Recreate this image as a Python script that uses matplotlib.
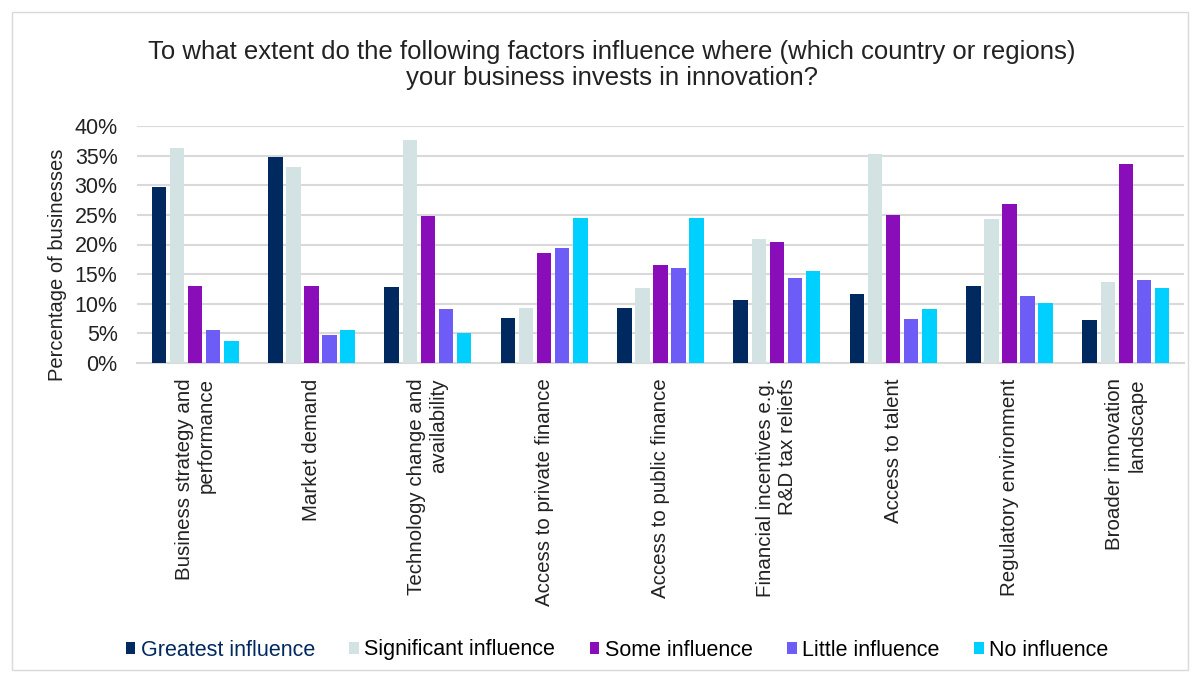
import matplotlib.pyplot as plt
import numpy as np
from matplotlib.patches import Rectangle
from matplotlib.ticker import PercentFormatter

plt.rcParams['font.family'] = ['Liberation Sans', 'DejaVu Sans']

factors = ['Business strategy and\nperformance', 'Market demand',
           'Technology change and\navailability', 'Access to private finance',
           'Access to public finance', 'Financial incentives e.g.\nR&D tax reliefs',
           'Access to talent', 'Regulatory environment',
           'Broader innovation\nlandscape']

greatest    = [29.7, 34.8, 12.8, 7.6, 9.3, 10.7, 11.6, 13.0, 7.2]
significant = [36.3, 33.1, 37.6, 9.3, 12.6, 20.9, 35.2, 24.3, 13.6]
some        = [13.0, 13.0, 24.8, 18.5, 16.5, 20.5, 24.9, 26.8, 33.6]
little      = [5.6, 4.7, 9.1, 19.4, 16.0, 14.3, 7.5, 11.3, 14.0]
none_       = [3.7, 5.6, 5.1, 24.5, 24.5, 15.6, 9.1, 10.1, 12.7]

series = [('Greatest influence', greatest, '#002960'),
          ('Significant influence', significant, '#D3E3E3'),
          ('Some influence', some, '#8A0DBA'),
          ('Little influence', little, '#6E5CF7'),
          ('No influence', none_, '#00D0FF')]

fig = plt.figure(figsize=(12, 6.78), dpi=100)
ax = fig.add_axes([137/1200, 1-363/678, 1047/1200, 237/678])

x = np.arange(len(factors))
w = 0.125
step = 0.155
for k, (name, vals, col) in enumerate(series):
    ax.bar(x + (k-2)*step, np.array(vals)/100, width=w, color=col,
           label=name, zorder=3)

ax.set_xlim(-0.5, len(factors)-0.5)
ax.set_ylim(0, 0.40)
ax.set_yticks(np.arange(0, 0.41, 0.05))
ax.yaxis.set_major_formatter(PercentFormatter(1.0, decimals=0))
ax.grid(axis='y', color='#D9D9D9', linewidth=1.5, zorder=0)
for s in ['top', 'right', 'left']:
    ax.spines[s].set_visible(False)
ax.spines['bottom'].set_color('#D9D9D9')
ax.spines['bottom'].set_linewidth(1.5)
ax.tick_params(axis='y', length=0, labelsize=15.5, colors='#222222', pad=14)
ax.set_xticks(x)
ax.set_xticklabels(factors, rotation=90, ha='center', va='top',
                   multialignment='right', fontsize=14.8, color='#222222',
                   linespacing=1.2)
ax.tick_params(axis='x', length=0, pad=11)
ax.set_ylabel('Percentage of businesses', fontsize=14.5, color='#222222')
ax.yaxis.set_label_coords(-0.067, 0.415)

fig.text(612/1200, 1-65/678,
         'To what extent do the following factors influence where (which country or regions)\nyour business invests in innovation?',
         ha='center', va='center', fontsize=18.5, color='#222222',
         linespacing=1.15)

leg = fig.legend(loc='center', bbox_to_anchor=(617/1200, 1-650/678), ncol=5,
                 frameon=False, fontsize=15.5, handlelength=0.45,
                 handleheight=0.45, handletextpad=0.25, columnspacing=1.6)
leg.get_texts()[0].set_color('#002960')

fig.patches.append(Rectangle((12/1200, 8/678), 1176/1200, 658/678,
                             transform=fig.transFigure, fill=False,
                             edgecolor='#D9D9D9', linewidth=1))

fig.savefig('out.png', dpi=100)
